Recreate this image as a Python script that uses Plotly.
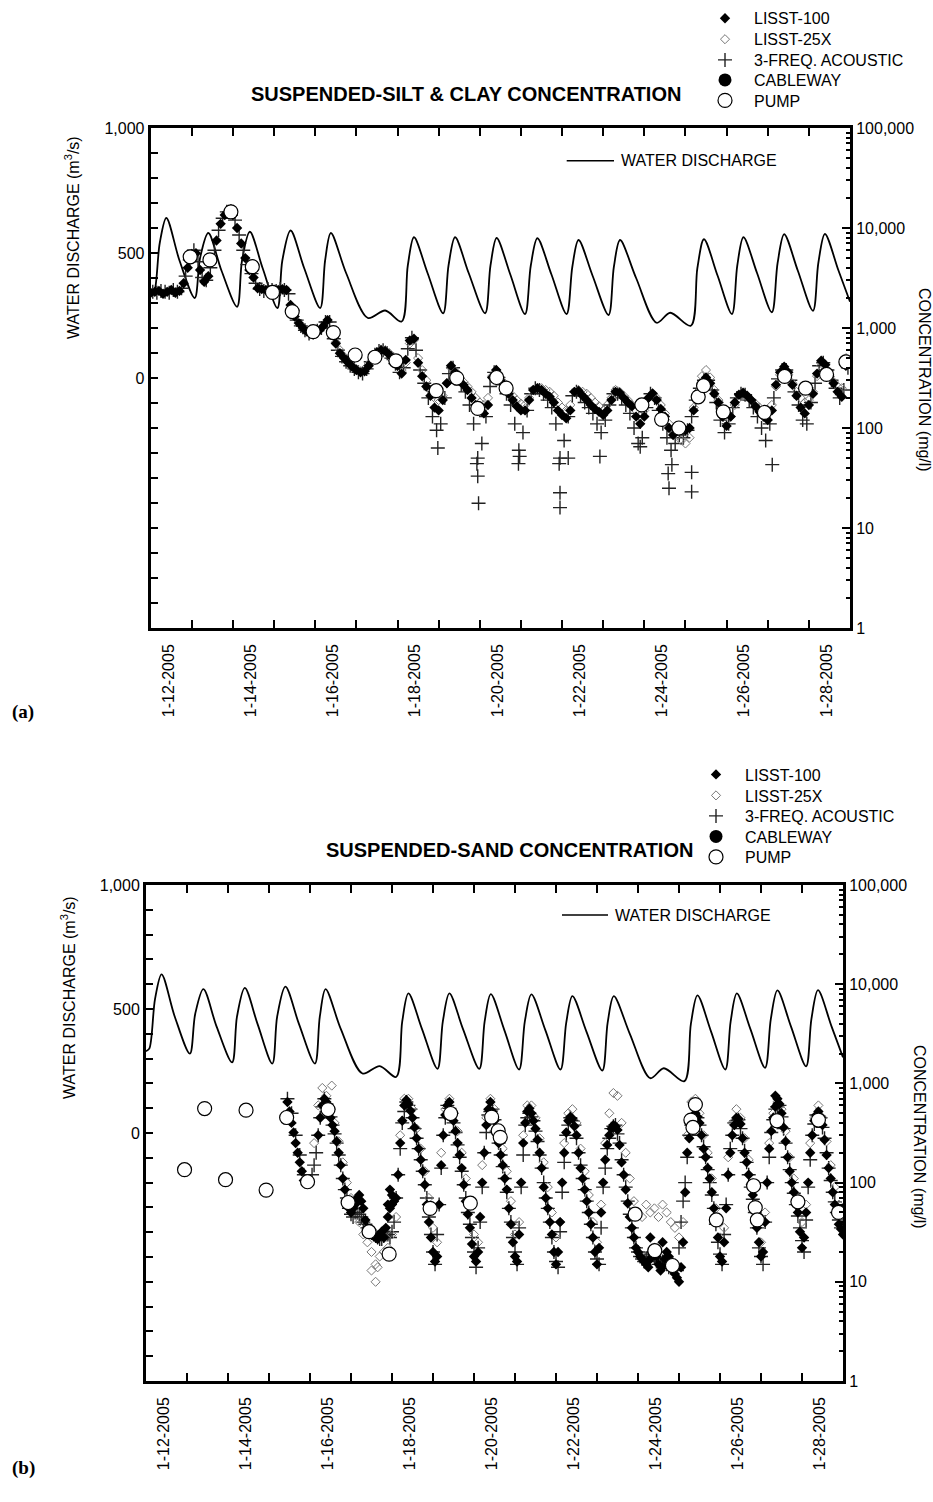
import numpy as np
import plotly.graph_objects as go

# ------------------------------------------------------------------ data
# water discharge (m3/s), key points of the daily hydropeaking cycle (day of January 2005)
q_days = [12.0, 12.08, 12.22, 12.38, 12.7, 13.07, 13.2, 13.4, 13.72, 14.1, 14.22, 14.41, 14.72,
          15.08, 15.2, 15.4, 15.73, 16.12, 16.24, 16.38, 16.75, 17.28, 17.7, 18.1, 18.25, 18.4,
          18.73, 19.11, 19.24, 19.4, 19.73, 20.13, 20.26, 20.41, 20.74, 21.1, 21.24, 21.4, 21.74,
          22.11, 22.25, 22.4, 22.74, 23.13, 23.26, 23.41, 23.8, 24.3, 24.63, 25.13, 25.29, 25.45,
          25.78, 26.13, 26.26, 26.41, 26.74, 27.1, 27.24, 27.4, 27.73, 28.1, 28.23, 28.39, 28.72, 29.0]
q_vals = [330, 340, 540, 640, 470, 320, 480, 580, 430, 285, 470, 585, 440,
          280, 470, 590, 440, 280, 470, 580, 420, 240, 270, 226, 450, 563,
          420, 259, 450, 563, 420, 259, 450, 560, 415, 256, 450, 559, 415,
          256, 445, 552, 410, 252, 445, 552, 400, 221, 261, 209, 440, 555,
          410, 256, 450, 563, 420, 263, 460, 575, 430, 269, 460, 576, 430, 305]

# ---- (a) silt & clay concentration, mg/l
# LISST-100, every 0.1 day from 12.0
a_l100 = [2250, 2300, 2350, 2200, 2300, 2400, 2250, 2350, 2800, 4000,
          5500, 5600, 3800, 2900, 3300, 4800, 7500, 11000, 13500, 14500,
          13500, 10000, 7000, 5000, 3800, 3200, 2500, 2450, 2400, 2380,
          2420, 2400, 2450, 2400, 1700, 1300, 1120, 1000, 920, 900,
          920, 950, 1050, 1200, 900, 700, 560, 500, 450, 410,
          380, 360, 370, 420, 500, 570, 600, 590, 540, 470,
          420, 350, 480, 750, 780, 450, 330, 260, 210, 160,
          150, 190, 280, 420, 360, 300, 270, 240, 200, 170,
          150, 140, 170, 320, 380, 300, 260, 220, 190, 165,
          150, 150, 190, 240, 250, 240, 220, 205, 180, 150,
          135, 125, 150, 230, 235, 210, 190, 170, 155, 145,
          135, 150, 190, 230, 225, 200, 180, 165, 130, 110,
          130, 200, 222, 190, 155, 130, 100, 85, 95, 95,
          95, 100, 150, 200, 280, 320, 280, 220, 180, 130,
          105, 130, 180, 215, 225, 210, 190, 165, 145, 130,
          120, 150, 270, 360, 410, 360, 270, 210, 160, 140,
          170, 220, 350, 470, 430, 330, 280, 230, 205, 420]
a_l100_start = 12.0
# 3-frequency acoustic, every 0.1 day from 12.05
a_ac = [2300, 2250, 2350, 2300, 2250, 2400, 2300, 2500, 3300, 4800,
        6000, 4600, 3200, 3000, 4000, 6000, 9500, 12500, 14500, 14800,
        12000, 8500, 6000, 4300, 3500, 2800, 2450, 2350, 2450, 2400,
        2350, 2450, 2400, 2200, 1500, 1200, 1050, 950, 880, 900,
        940, 1000, 1150, 1150, 780, 600, 520, 460, 420, 390,
        360, 350, 390, 460, 540, 590, 600, 560, 500, 440,
        360, 400, 620, 800, 600, 380, 280, 200, 130, 95,
        110, 200, 350, 400, 320, 270, 230, 170, 110, 50,
        70, 130, 260, 360, 320, 270, 220, 170, 110, 60,
        90, 150, 220, 250, 240, 220, 190, 160, 110, 50,
        75, 130, 210, 230, 210, 180, 160, 140, 110, 90,
        120, 170, 220, 220, 200, 170, 140, 100, 70, 80,
        160, 220, 200, 150, 110, 80, 60, 70, 85, 80,
        95, 130, 190, 250, 300, 300, 240, 180, 120, 90,
        110, 160, 200, 220, 215, 190, 160, 130, 100, 75,
        110, 200, 310, 380, 380, 300, 230, 170, 120, 110,
        180, 280, 420, 450, 380, 300, 250, 200, 240, 400]
a_ac_start = 12.05
a_ac_extra_t = [18.98, 19.93, 19.95, 19.97, 20.94, 20.97, 21.93, 21.95, 21.95, 22.15, 22.92,
                23.9, 24.58, 24.6, 24.67, 25.15, 25.15, 27.11]
a_ac_extra_v = [63, 44, 33, 17.7, 44, 52, 44, 22.5, 16, 50, 52, 65, 35, 25, 43, 36, 23, 43]
# LISST-25X, every 0.1 day from 16.4
a_l25 = [900, 720, 600, 520, 460, 420,
         390, 370, 390, 440, 520, 580, 610, 600, 560, 500,
         440, 380, 450, 700, 760, 500, 380, 300, 240, 200,
         190, 210, 280, 400, 370, 320, 290, 260, 230, 200,
         180, 170, 200, 330, 380, 320, 280, 240, 210, 190,
         175, 170, 200, 240, 250, 250, 240, 230, 210, 180,
         160, 150, 170, 230, 240, 230, 220, 200, 180, 165,
         150, 170, 200, 240, 230, 210, 190, 170, 150, 130,
         150, 200, 220, 200, 170, 140, 110, 95, 85, 75,
         70, 80, 160, 230, 330, 380, 320, 240, 190, 150,
         120, 130, 170, 200, 210, 205, 190, 175, 160, 150,
         140, 170, 260, 340, 380, 340, 280, 230, 200, 180,
         190, 230, 330, 420, 400, 330, 290, 260, 250, 500]
a_l25_start = 16.4
a_pump_t = [12.96, 13.44, 13.95, 14.47, 14.96, 15.44, 15.95, 16.44, 16.97, 17.45, 17.96, 18.94,
            19.44, 19.95, 20.41, 20.64, 23.94, 24.42, 24.84, 25.31, 25.44, 25.92, 26.92, 27.41,
            27.92, 28.43, 28.9]
a_pump_v = [5150, 4800, 14500, 4100, 2270, 1460, 920, 900, 537, 510, 470, 236,
            316, 157, 320, 250, 170, 122, 100, 205, 265, 145, 143, 328,
            250, 343, 458]

# ---- (b) sand concentration, mg/l
b_l100_first_t = [15.45, 15.5, 15.55, 15.6, 15.65, 15.7, 15.75, 15.8, 15.85]
b_l100_first_v = [650, 520, 400, 320, 250, 200, 160, 130, 105]
# LISST-100, every 0.1 day from 16.2
b_l100 = [300, 600, 650, 450, 330, 200, 110, 65, 50,
          60, 75, 55, 35, 30, 28, 30, 28, 45, 60,
          70, 250, 600, 620, 450, 280, 170, 95, 40, 20,
          18, 150, 480, 650, 420, 250, 140, 65, 35, 18,
          20, 100, 380, 650, 420, 250, 150, 85, 38, 18,
          30, 250, 520, 500, 350, 200, 90, 55, 30, 15,
          40, 200, 420, 440, 300, 140, 85, 50, 28, 15,
          50, 170, 300, 380, 340, 160, 85, 45, 28, 20,
          17, 15, 17, 22, 15, 14, 20, 15, 12, 10,
          25, 200, 360, 500, 400, 220, 140, 80, 40, 18,
          25, 120, 300, 450, 390, 200, 120, 75, 35, 18,
          40, 220, 450, 700, 500, 260, 130, 80, 50, 22,
          50, 200, 420, 520, 380, 190, 110, 60, 38, 30]
b_l100_start = 16.2
# LISST-100, the readings between, every 0.1 day from 16.25
b_l100_mid = [450, 700, 550, 380, 260, 150, 85, 55,
              55, 70, 65, 42, 32, 29, 27, 32, 35, 55,
              65, 120, 420, 680, 530, 360, 220, 130, 60, 28,
              16, 60, 300, 600, 520, 330, 190, 95, 48, 24,
              16, 45, 200, 550, 520, 330, 190, 110, 55, 25,
              16, 100, 400, 560, 420, 270, 140, 70, 40, 20,
              20, 100, 320, 460, 370, 200, 110, 65, 38, 20,
              22, 100, 240, 350, 370, 240, 120, 62, 35, 22,
              18, 16, 14, 20, 18, 13, 17, 18, 13, 11,
              14, 80, 280, 430, 460, 300, 180, 110, 55, 28,
              16, 55, 200, 380, 440, 280, 160, 95, 52, 25,
              20, 100, 330, 580, 620, 360, 180, 100, 65, 32,
              28, 100, 300, 480, 460, 270, 140, 80, 48, 34]
b_l100_mid_start = 16.25
b_l100_extra_t = [17.9, 17.95, 18.0, 24.3, 24.6, 27.35, 27.4]
b_l100_extra_v = [60, 85, 75, 28, 25, 750, 620]
b_ac_first_t = [15.45, 15.55, 15.65, 15.75, 15.85]
b_ac_first_v = [700, 500, 300, 190, 120]
# 3-frequency acoustic, every 0.1 day from 16.05
b_ac = [120, 200, 450, 700, 550, 380, 250, 150, 85, 55, 45,
        50, 45, 38, 32, 30, 28, 27, 30, 28, 40,
        120, 400, 650, 550, 350, 220, 130, 70, 30, 15,
        60, 300, 600, 500, 320, 180, 95, 50, 28, 14,
        40, 200, 480, 550, 330, 190, 110, 55, 28, 15,
        90, 380, 500, 420, 260, 140, 70, 40, 20, 14,
        80, 300, 450, 380, 200, 110, 65, 38, 20, 15,
        90, 220, 350, 380, 250, 120, 65, 35, 22, 18,
        16, 18, 20, 16, 15, 17, 14, 15, 13, 40,
        100, 300, 450, 450, 300, 180, 100, 55, 25, 15,
        60, 220, 400, 430, 280, 160, 90, 50, 22, 15,
        100, 320, 550, 600, 350, 180, 100, 60, 35, 20,
        90, 300, 480, 450, 280, 140, 80, 50, 35]
b_ac_start = 16.05
# 3-frequency acoustic, the readings between, every 0.1 day from 16.1
b_ac_mid = [150, 300, 580, 620, 460, 310, 190, 110, 70, 48,
            50, 48, 40, 35, 31, 29, 27, 29, 30, 32,
            70, 220, 520, 600, 450, 280, 170, 95, 45, 20,
            30, 140, 450, 560, 400, 240, 130, 70, 38, 20,
            22, 90, 320, 520, 430, 250, 145, 80, 40, 20,
            35, 190, 450, 460, 330, 190, 100, 55, 28, 16,
            32, 160, 380, 420, 280, 150, 85, 50, 28, 17,
            35, 140, 280, 370, 310, 170, 90, 48, 28, 20,
            17, 17, 19, 18, 15, 16, 15, 14, 14, 22,
            65, 180, 380, 460, 380, 230, 135, 75, 38, 19,
            30, 120, 300, 420, 350, 210, 120, 68, 35, 18,
            40, 180, 430, 580, 460, 250, 135, 78, 46, 26,
            42, 170, 390, 470, 360, 200, 105, 64, 42]
b_ac_mid_start = 16.1
# LISST-25X, every 0.1 day from 16.1
b_l25 = [250, 600, 900, 750, 550, 400, 260, 160, 100, 70,
         55, 40, 30, 25, 20, 15, 18, 20, 22, 30,
         45, 300, 700, 700, 550, 350, 220, 130, 70, 35,
         25, 200, 550, 700, 500, 330, 200, 110, 60, 30,
         25, 150, 450, 700, 550, 350, 220, 130, 65, 30,
         40, 300, 600, 600, 450, 280, 160, 90, 50, 28,
         40, 250, 500, 550, 400, 220, 130, 75, 40, 25,
         60, 250, 500, 800, 750, 400, 200, 110, 65, 50,
         45, 60, 50, 55, 45, 60, 50, 40, 35, 28,
         40, 300, 650, 700, 500, 300, 200, 110, 55, 28,
         35, 180, 400, 550, 450, 280, 170, 100, 50, 25,
         50, 250, 500, 650, 550, 330, 180, 110, 70, 40,
         60, 250, 450, 600, 450, 260, 150, 90, 60, 45]
b_l25_start = 16.1
b_l25_extra_t = [16.53, 17.5, 17.6, 17.65]
b_l25_extra_v = [950, 13, 10, 14]
b_pump_t = [12.94, 13.43, 13.94, 14.44, 14.93, 15.43, 15.94, 16.44, 16.93, 17.44, 17.93, 18.93,
            19.43, 19.91, 20.43, 20.59, 20.64, 23.93, 24.41, 24.84, 25.29, 25.34, 25.40, 25.91,
            26.82, 26.86, 26.91, 27.39, 27.9, 28.4, 28.89]
b_pump_v = [135, 558, 107, 537, 84, 453, 102, 545, 63, 32, 19, 55,
            497, 62, 457, 333, 286, 48, 20.6, 14.6, 427, 360, 612, 42,
            93, 56, 42, 420, 64, 427, 50]

# axis labels
date_label_pos = [12.43, 14.43, 16.43, 18.43, 20.43, 22.43, 24.43, 26.43, 28.43]
date_labels = ["1-12-2005", "1-14-2005", "1-16-2005", "1-18-2005", "1-20-2005",
               "1-22-2005", "1-24-2005", "1-26-2005", "1-28-2005"]
day_ticks = list(range(13, 29))
q_ticks = list(range(-1000, 1001, 100))
q_ticktext = ["1,000" if v == 1000 else "500" if v == 500 else "0" if v == 0 else " " for v in q_ticks]
c_major = [1, 10, 100, 1000, 10000, 100000]
c_major_text = ["1", "10", "100", "1,000", "10,000", "100,000"]
c_minor = [m * d for d in [1, 10, 100, 1000, 10000] for m in range(2, 10)]


def grid(start, n):
    return list(np.round(start + 0.1 * np.arange(n), 3))


# ------------------------------------------------------------------ figure
W, H = 933, 1502
FONT = "Liberation Sans, Arial, Helvetica, sans-serif"


def px(x):
    return x / W


def py(y):
    return 1 - y / H


fig = go.Figure()

panels = [
    dict(x="x", xl="x3", y="y", y2="y2", y3="y3", leg0=0,
         l100=(grid(a_l100_start, len(a_l100)), a_l100),
         l25=(grid(a_l25_start, len(a_l25)), a_l25),
         ac=(grid(a_ac_start, len(a_ac)) + a_ac_extra_t, a_ac + a_ac_extra_v),
         pump=(a_pump_t, a_pump_v)),
    dict(x="x2", xl="x4", y="y4", y2="y5", y3="y6", leg0=5,
         l100=(b_l100_first_t + grid(b_l100_start, len(b_l100)) + grid(b_l100_mid_start, len(b_l100_mid))
               + b_l100_extra_t,
               b_l100_first_v + b_l100 + b_l100_mid + b_l100_extra_v),
         l25=(grid(b_l25_start, len(b_l25)) + b_l25_extra_t, b_l25 + b_l25_extra_v),
         ac=(b_ac_first_t + grid(b_ac_start, len(b_ac)) + grid(b_ac_mid_start, len(b_ac_mid)),
             b_ac_first_v + b_ac + b_ac_mid),
         pump=(b_pump_t, b_pump_v)),
]


def legname(i):
    return "legend" if i == 1 else f"legend{i}"


for p in panels:
    L = p["leg0"]
    fig.add_trace(go.Scatter(x=q_days, y=q_vals, xaxis=p["x"], yaxis=p["y"], mode="lines",
                             line=dict(color="black", width=1.8, shape="spline", smoothing=0.9),
                             showlegend=False, hoverinfo="skip"))
    fig.add_trace(go.Scatter(x=p["ac"][0], y=p["ac"][1], xaxis=p["x"], yaxis=p["y2"], mode="markers",
                             name="3-FREQ. ACOUSTIC", legend=legname(L + 3),
                             marker=dict(symbol="cross-thin", size=10, color="#222",
                                         line=dict(color="#222", width=1.4))))
    fig.add_trace(go.Scatter(x=p["l25"][0], y=p["l25"][1], xaxis=p["x"], yaxis=p["y2"], mode="markers",
                             name="LISST-25X", legend=legname(L + 2),
                             marker=dict(symbol="diamond-open", size=7, color="#777",
                                         line=dict(color="#777", width=1))))
    fig.add_trace(go.Scatter(x=p["l100"][0], y=p["l100"][1], xaxis=p["x"], yaxis=p["y2"], mode="markers",
                             name="LISST-100", legend=legname(L + 1),
                             marker=dict(symbol="diamond", size=8, color="black")))
    fig.add_trace(go.Scatter(x=[None], y=[None], xaxis=p["x"], yaxis=p["y2"], mode="markers",
                             name="CABLEWAY", legend=legname(L + 4),
                             marker=dict(symbol="circle", size=13, color="black")))
    fig.add_trace(go.Scatter(x=p["pump"][0], y=p["pump"][1], xaxis=p["x"], yaxis=p["y2"], mode="markers",
                             name="PUMP", legend=legname(L + 5),
                             marker=dict(symbol="circle", size=14, color="white",
                                         line=dict(color="black", width=1.2))))
    # helpers so that the overlay axes (date labels, minor log ticks) are drawn
    fig.add_trace(go.Scatter(x=[None], y=[None], xaxis=p["xl"], yaxis=p["y"], showlegend=False,
                             hoverinfo="skip"))
    fig.add_trace(go.Scatter(x=[None], y=[None], xaxis=p["x"], yaxis=p["y3"], showlegend=False,
                             hoverinfo="skip"))

common_x = dict(range=[12, 29], tickmode="array", tickvals=day_ticks, ticks="inside", ticklen=8,
                tickwidth=2, tickcolor="black", showticklabels=False, showline=True, linewidth=3,
                linecolor="black", mirror="ticks", showgrid=False, zeroline=False)
label_x = dict(range=[12, 29], tickmode="array", tickvals=date_label_pos, ticktext=date_labels,
               tickangle=-90, ticks="", showline=False, showgrid=False, zeroline=False,
               side="bottom", ticklabelstandoff=12, tickfont=dict(size=16, color="black"))
left_y = dict(range=[-1000, 1000], tickmode="array", tickvals=q_ticks, ticktext=q_ticktext,
              ticks="inside", ticklen=7, tickwidth=2, tickcolor="black", showline=True, linewidth=3,
              linecolor="black", showgrid=False, zeroline=False, side="left",
              tickfont=dict(size=16, color="black"))
right_y = dict(type="log", range=[0, 5], tickmode="array", tickvals=c_major, ticktext=c_major_text,
               ticks="inside", ticklen=8, tickwidth=2, tickcolor="black", showline=True, linewidth=3,
               linecolor="black", showgrid=False, zeroline=False, side="right",
               tickfont=dict(size=16, color="black"))
minor_y = dict(type="log", range=[0, 5], tickmode="array", tickvals=c_minor, ticks="inside",
               ticklen=4, tickwidth=1.5, tickcolor="black", showticklabels=False, showline=False,
               showgrid=False, zeroline=False, side="right")

fig.update_layout(
    xaxis=dict(domain=[px(150.7), px(850)], anchor="y", **common_x),
    xaxis3=dict(overlaying="x", anchor="y", **label_x),
    yaxis=dict(domain=[py(628), py(128)], anchor="x", **left_y),
    yaxis2=dict(overlaying="y", anchor="x", **right_y),
    yaxis3=dict(overlaying="y", anchor="x", **minor_y),
    xaxis2=dict(domain=[px(146), px(843)], anchor="y4", **common_x),
    xaxis4=dict(overlaying="x2", anchor="y4", **label_x),
    yaxis4=dict(domain=[py(1381), py(885)], anchor="x2", **left_y),
    yaxis5=dict(overlaying="y4", anchor="x2", **right_y),
    yaxis6=dict(overlaying="y4", anchor="x2", **minor_y),
)

# one legend box per entry, so that the rows can sit at the reference spacing
ITEMW = 48
legend_style = dict(xanchor="left", yanchor="top", bgcolor="rgba(0,0,0,0)",
                    font=dict(family=FONT, size=16, color="black"),
                    itemsizing="trace", itemwidth=ITEMW)
rows_a = [18.3, 39.3, 60, 80, 100.5]
rows_b = [774.5, 795.5, 816, 836.5, 857]
text_x_a, text_x_b = 754, 745
legends = {}
for i, r in enumerate(rows_a):
    legends[legname(1 + i)] = dict(x=px(text_x_a - ITEMW - 10), y=py(r - 17), **legend_style)
for i, r in enumerate(rows_b):
    legends[legname(6 + i)] = dict(x=px(text_x_b - ITEMW - 10), y=py(r - 17), **legend_style)
fig.update_layout(**legends)

ann = []


def text(t, x, y, size=16, angle=0, xanchor="center", family=FONT):
    ann.append(dict(text=t, x=px(x), y=py(y), xref="paper", yref="paper", showarrow=False,
                    xanchor=xanchor, yanchor="middle", textangle=angle,
                    font=dict(family=family, size=size, color="black")))


text("<b>SUSPENDED-SILT &amp; CLAY CONCENTRATION</b>", 466, 94, size=20)
text("<b>SUSPENDED-SAND CONCENTRATION</b>", 509, 850, size=20)
text("WATER DISCHARGE (m<sup>3</sup>/s)", 72, 238, angle=-90)
text("WATER DISCHARGE (m<sup>3</sup>/s)", 68, 998, angle=-90)
text("CONCENTRATION (mg/l)", 925, 380, angle=90)
text("CONCENTRATION (mg/l)", 920, 1137, angle=90)
text("WATER DISCHARGE", 619, 160.7, xanchor="left")
text("WATER DISCHARGE", 613, 915, xanchor="left")
text("<b>(a)</b>", 10, 712, size=19, xanchor="left", family="Liberation Serif, Times New Roman, serif")
text("<b>(b)</b>", 10, 1468, size=19, xanchor="left", family="Liberation Serif, Times New Roman, serif")

shapes = [
    dict(type="line", xref="paper", yref="paper", x0=px(566.7), x1=px(614), y0=py(160.7), y1=py(160.7),
         line=dict(color="black", width=1.5)),
    dict(type="line", xref="paper", yref="paper", x0=px(562), x1=px(608), y0=py(915), y1=py(915),
         line=dict(color="black", width=1.5)),
]

fig.update_layout(
    width=W, height=H, margin=dict(l=0, r=0, t=0, b=0, autoexpand=False),
    paper_bgcolor="white", plot_bgcolor="white",
    font=dict(family=FONT, size=16, color="black"),
    annotations=ann, shapes=shapes, hovermode=False,
)

fig.write_html("out.html", config={"displayModeBar": False},
               post_script="document.body.style.margin='0px';document.body.style.overflow='hidden';")
